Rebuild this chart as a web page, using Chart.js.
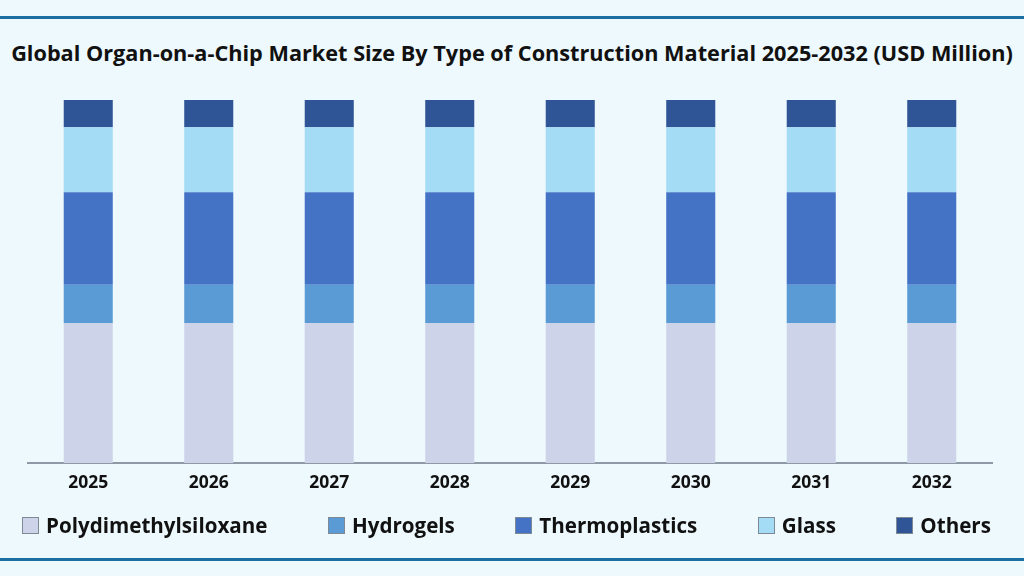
<!DOCTYPE html>
<html lang="en">
<head>
  <meta charset="UTF-8">
  <title>Organ-on-a-Chip Market by Material</title>
  <style>
    *{margin:0;padding:0;box-sizing:border-box;}
    body{width:1024px;height:576px;background:#eef9fd;position:relative;overflow:hidden;font-family:'Open Sans',sans-serif;}
    .rule{position:absolute;left:0;width:1024px;height:3px;background:#1c6fa3;}
    #top{top:16px;}
    #bottom{top:558px;}
    #box{position:absolute;left:0;top:0;width:1024px;height:576px;}
    #title{position:absolute;left:0;width:1024px;top:38px;line-height:30px;display:flex;justify-content:center;font-weight:700;font-size:21.7px;color:#111;white-space:nowrap;}
    #legend{position:absolute;left:22px;width:969px;top:512px;height:26px;display:flex;justify-content:space-between;align-items:center;}
    #legend .item{display:flex;align-items:center;font-weight:700;font-size:20.6px;color:#111;white-space:nowrap;}
    #legend .sw{width:17px;height:17px;border:1px solid #7d8a96;margin-right:7px;}
  </style>
  <script src="https://cdn.jsdelivr.net/npm/chart.js@4.4.0/dist/chart.umd.min.js"></script>
</head>
<body>
  <div class="rule" id="top"></div>
  <div id="title"><span>Global Organ-on-a-Chip Market Size By Type of Construction Material 2025-2032 (USD Million)</span></div>
  <div id="box"><canvas id="chart" width="1024" height="576"></canvas></div>
  <div id="legend"></div>
  <div class="rule" id="bottom"></div>
  <script>
    // shares (percent of total)
    const years = ["2025","2026","2027","2028","2029","2030","2031","2032"];
    const pdms           = [38.6, 38.6, 38.6, 38.6, 38.6, 38.6, 38.6, 38.6];
    const hydrogels      = [10.5, 10.5, 10.5, 10.5, 10.5, 10.5, 10.5, 10.5];
    const thermoplastics = [25.5, 25.5, 25.5, 25.5, 25.5, 25.5, 25.5, 25.5];
    const glass          = [17.9, 17.9, 17.9, 17.9, 17.9, 17.9, 17.9, 17.9];
    const others         = [7.5, 7.5, 7.5, 7.5, 7.5, 7.5, 7.5, 7.5];

    const series = [
      { label: "Polydimethylsiloxane", data: pdms, color: "#cdd3e8" },
      { label: "Hydrogels", data: hydrogels, color: "#5b9bd5" },
      { label: "Thermoplastics", data: thermoplastics, color: "#4472c4" },
      { label: "Glass", data: glass, color: "#a4dbf5" },
      { label: "Others", data: others, color: "#2f5597" }
    ];

    // legend row under the axis
    const leg = document.getElementById("legend");
    series.forEach(s => {
      const it = document.createElement("div");
      it.className = "item";
      it.innerHTML = `<span class="sw" style="background:${s.color}"></span>${s.label}`;
      leg.appendChild(it);
    });

    const ctx = document.getElementById("chart").getContext("2d");
    new Chart(ctx, {
      type: "bar",
      data: {
        labels: years,
        datasets: series.map(s => ({
          label: s.label,
          data: s.data,
          backgroundColor: s.color,
          borderWidth: 0,
          barPercentage: 0.407,
          categoryPercentage: 1
        }))
      },
      options: {
        responsive: false,
        animation: false,
        layout: { padding: { left: 28, right: 32, top: 100, bottom: 72 } },
        plugins: {
          legend: { display: false },
          tooltip: { enabled: false }
        },
        scales: {
          x: {
            stacked: true,
            grid: { display: false, drawTicks: false },
            border: { color: "#8d9aa6", width: 2 },
            ticks: { color: "#111", font: { family: "'Open Sans'", size: 17.5, weight: "bold" }, padding: 10 }
          },
          y: {
            stacked: true,
            display: false,
            min: 0,
            max: 100
          }
        }
      }
    });
  </script>
</body>
</html>
